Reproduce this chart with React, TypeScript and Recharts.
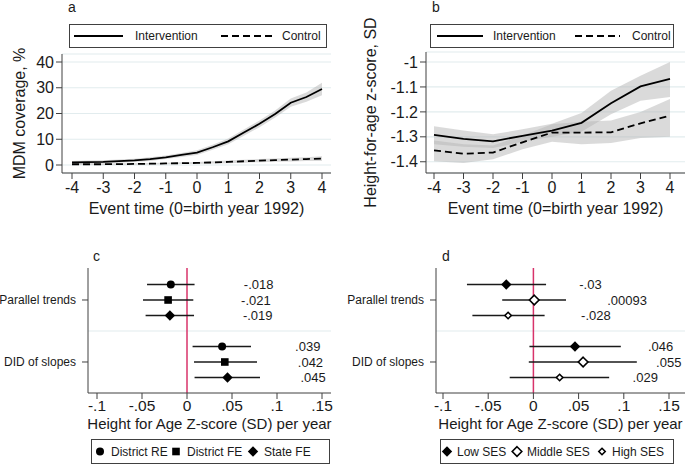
import React from "react";
import {
  Area,
  CartesianGrid,
  ComposedChart,
  ErrorBar,
  Line,
  ReferenceLine,
  Scatter,
  ScatterChart,
  XAxis,
  YAxis,
} from "recharts";

const FONT = "'Liberation Sans', Arial, Helvetica, sans-serif";
const INK = "#1a1a1a";
const AXIS = "#404040";
const GRID = "#e2ecee";
const BAND = "#b5b5b5";
const RED = "#d8336a";

// panel a: MDM coverage, half-year steps
const eventTimeA = [-4, -3.5, -3, -2.5, -2, -1.5, -1, -0.5, 0, 0.5, 1, 1.5, 2, 2.5, 3, 3.5, 4];
const mdmIntervention = [1.0, 1.1, 1.2, 1.5, 1.8, 2.3, 3.0, 3.9, 4.8, 6.9, 9.2, 12.6, 16.0, 19.8, 24.2, 26.4, 29.5];
const mdmInterventionLo = [0.4, 0.5, 0.6, 0.9, 1.2, 1.6, 2.3, 3.1, 3.9, 5.9, 8.1, 11.4, 14.7, 18.4, 22.6, 24.6, 27.1];
const mdmInterventionHi = [1.6, 1.7, 1.8, 2.1, 2.4, 3.0, 3.7, 4.7, 5.7, 7.9, 10.3, 13.8, 17.3, 21.2, 25.8, 28.2, 31.9];
const mdmControl = [0.3, 0.3, 0.3, 0.35, 0.4, 0.5, 0.6, 0.7, 0.8, 1.0, 1.2, 1.45, 1.7, 1.9, 2.1, 2.3, 2.5];
const mdmControlLo = [0.0, 0.0, 0.0, 0.05, 0.1, 0.2, 0.3, 0.35, 0.4, 0.55, 0.7, 0.9, 1.1, 1.25, 1.4, 1.55, 1.6];
const mdmControlHi = [0.6, 0.6, 0.6, 0.65, 0.7, 0.8, 0.9, 1.05, 1.2, 1.45, 1.7, 2.0, 2.3, 2.55, 2.8, 3.05, 3.4];

// panel b: height-for-age z-score
const eventTimeB = [-4, -3, -2, -1, 0, 1, 2, 3, 4];
const hazIntervention = [-1.292, -1.308, -1.318, -1.296, -1.275, -1.244, -1.165, -1.098, -1.068];
const hazInterventionLo = [-1.33, -1.34, -1.345, -1.32, -1.3, -1.28, -1.21, -1.155, -1.14];
const hazInterventionHi = [-1.258, -1.275, -1.29, -1.27, -1.248, -1.205, -1.115, -1.055, -1.0];
const hazControl = [-1.354, -1.368, -1.363, -1.322, -1.283, -1.283, -1.282, -1.246, -1.215];
const hazControlLo = [-1.398, -1.405, -1.39, -1.35, -1.32, -1.33, -1.325, -1.305, -1.3];
const hazControlHi = [-1.315, -1.33, -1.335, -1.295, -1.25, -1.24, -1.235, -1.2, -1.148];

const eventTicks = [-4, -3, -2, -1, 0, 1, 2, 3, 4];
const mdmTicks = [0, 10, 20, 30, 40];
const hazTicks = [-1.4, -1.3, -1.2, -1.1, -1];

// panels c, d: coefficient plots
const coefRows = ["Parallel trends", "DID of slopes"];
const coefTicks = [-0.1, -0.05, 0, 0.05, 0.1, 0.15];

const modelsC = ["District RE", "District FE", "State FE"];
const parallelEstC = [-0.018, -0.021, -0.019];
const parallelLoC = [-0.0444, -0.0489, -0.046];
const parallelHiC = [0.0084, 0.007, 0.0078];
const didEstC = [0.039, 0.042, 0.045];
const didLoC = [0.0062, 0.0078, 0.0084];
const didHiC = [0.0711, 0.0778, 0.0811];

const groupsD = ["Low SES", "Middle SES", "High SES"];
const parallelEstD = [-0.03, 0.00093, -0.028];
const parallelLoD = [-0.0735, -0.0345, -0.0675];
const parallelHiD = [0.014, 0.0361, 0.0124];
const didEstD = [0.046, 0.055, 0.029];
const didLoD = [-0.0044, -0.0051, -0.0262];
const didHiD = [0.0967, 0.1144, 0.0838];

const trendA = eventTimeA.map((t, i) => ({
  t,
  int: mdmIntervention[i],
  intBand: [mdmInterventionLo[i], mdmInterventionHi[i]],
  ctl: mdmControl[i],
  ctlBand: [mdmControlLo[i], mdmControlHi[i]],
}));

const trendB = eventTimeB.map((t, i) => ({
  t,
  int: hazIntervention[i],
  intBand: [hazInterventionLo[i], hazInterventionHi[i]],
  ctl: hazControl[i],
  ctlBand: [hazControlLo[i], hazControlHi[i]],
}));

const fmtCoef = (v: number) => (v === 0 ? "0" : String(v).replace("0.", "."));

function coefSeries(est: number[][], lo: number[][], hi: number[][], i: number) {
  return coefRows.map((_, r) => ({
    x: est[r][i],
    y: r + 1 + (i - 1) * 0.25,
    err: [est[r][i] - lo[r][i], hi[r][i] - est[r][i]],
    label: fmtCoef(est[r][i]),
  }));
}

type MarkerKind = "circle" | "square" | "diamond" | "hollowDiamond" | "smallDiamond";

function Marker({ kind, cx, cy }: { kind: MarkerKind; cx: number; cy: number }) {
  if (kind === "circle") return <circle cx={cx} cy={cy} r={4} fill="#000" />;
  if (kind === "square") return <rect x={cx - 3.8} y={cy - 3.8} width={7.6} height={7.6} fill="#000" />;
  const s = kind === "diamond" ? 5.2 : kind === "hollowDiamond" ? 4.8 : 3.2;
  const pts = `${cx},${cy - s} ${cx + s},${cy} ${cx},${cy + s} ${cx - s},${cy}`;
  if (kind === "diamond") return <polygon points={pts} fill="#000" />;
  return <polygon points={pts} fill="#fff" stroke="#000" strokeWidth={1.6} />;
}

const markShape = (kind: MarkerKind) => (props: any) => {
  const { cx, cy, payload } = props;
  return (
    <g>
      <Marker kind={kind} cx={cx} cy={cy} />
      <text x={cx + 73} y={cy} dy="0.36em" fontSize={13} fill={INK}>
        {payload.label}
      </text>
    </g>
  );
};

const RowTick = (p: any) => (
  <text x={p.x} y={p.y} dy="0.36em" textAnchor="end" fontSize={12} fill={INK}>
    {coefRows[p.payload.value - 1] ?? ""}
  </text>
);

function TrendPanel(props: {
  left: number;
  width: number;
  data: any[];
  marginTop: number;
  yAxisWidth: number;
  yDomain: number[];
  yTicks: number[];
  yPad: number;
  yTitle: string;
  yTitleOffset: number;
  xPad: { left: number; right: number };
  marginRight: number;
}) {
  return (
    <div style={{ position: "absolute", left: props.left, top: 0 }}>
      <ComposedChart
        width={props.width}
        height={235}
        data={props.data}
        margin={{ top: props.marginTop, right: props.marginRight, bottom: 0, left: 0 }}
      >
        <CartesianGrid horizontal vertical={false} stroke={GRID} strokeWidth={1.2} />
        <XAxis
          type="number"
          dataKey="t"
          domain={[-4, 4]}
          ticks={eventTicks}
          padding={props.xPad}
          height={62}
          stroke={AXIS}
          tickSize={6}
          tickMargin={3}
          tick={{ fill: INK, fontSize: 16 }}
          label={{ value: "Event time (0=birth year 1992)", position: "insideTop", offset: 30, fill: INK, fontSize: 16 }}
        />
        <YAxis
          type="number"
          domain={props.yDomain}
          ticks={props.yTicks}
          padding={{ top: props.yPad, bottom: props.yPad }}
          width={props.yAxisWidth}
          stroke={AXIS}
          tickSize={6}
          tickMargin={2}
          tick={{ fill: INK, fontSize: 16 }}
          tickFormatter={(v: number) => String(v)}
          label={{
            value: props.yTitle,
            angle: -90,
            position: "insideLeft",
            offset: props.yTitleOffset,
            fill: INK,
            fontSize: 16,
            style: { textAnchor: "middle" },
          }}
        />
        <Area type="linear" dataKey="intBand" stroke="none" fill={BAND} fillOpacity={0.5} isAnimationActive={false} />
        <Line type="linear" dataKey="int" stroke="#000" strokeWidth={1.8} dot={false} isAnimationActive={false} />
        <Area type="linear" dataKey="ctlBand" stroke="none" fill={BAND} fillOpacity={0.5} isAnimationActive={false} />
        <Line
          type="linear"
          dataKey="ctl"
          stroke="#000"
          strokeWidth={1.8}
          strokeDasharray="7 4"
          dot={false}
          isAnimationActive={false}
        />
      </ComposedChart>
    </div>
  );
}

function CoefPanel(props: {
  left: number;
  width: number;
  yAxisWidth: number;
  marginRight: number;
  xPad: { left: number; right: number };
  series: { name: string; kind: MarkerKind; data: any[] }[];
}) {
  return (
    <div style={{ position: "absolute", left: props.left, top: 240 }}>
      <ScatterChart
        width={props.width}
        height={225}
        margin={{ top: 28, right: props.marginRight, bottom: 0, left: 0 }}
      >
        <XAxis
          type="number"
          dataKey="x"
          domain={[-0.1, 0.15]}
          ticks={coefTicks}
          padding={props.xPad}
          height={72}
          stroke={AXIS}
          tickSize={6}
          tickMargin={1}
          tick={{ fill: INK, fontSize: 15.5 }}
          tickFormatter={fmtCoef}
          label={{
            value: "Height for Age Z-score (SD) per year",
            position: "insideTop",
            offset: 25,
            fill: INK,
            fontSize: 15,
          }}
        />
        <YAxis
          type="number"
          dataKey="y"
          domain={[0.484, 2.5]}
          reversed
          ticks={[1, 2]}
          width={props.yAxisWidth}
          stroke={AXIS}
          tickSize={6}
          tickMargin={6}
          tick={RowTick}
        />
        <ReferenceLine y={1.5} stroke={GRID} strokeWidth={1.2} />
        <ReferenceLine x={0} stroke={RED} strokeWidth={1.5} />
        {props.series.map((s) => (
          <Scatter key={s.name} name={s.name} data={s.data} shape={markShape(s.kind)} isAnimationActive={false}>
            <ErrorBar dataKey="err" direction="x" width={0} stroke={INK} strokeWidth={1.6} />
          </Scatter>
        ))}
      </ScatterChart>
    </div>
  );
}

const kindsC: MarkerKind[] = ["circle", "square", "diamond"];
const kindsD: MarkerKind[] = ["diamond", "hollowDiamond", "smallDiamond"];

const seriesC = modelsC.map((name, i) => ({
  name,
  kind: kindsC[i],
  data: coefSeries([parallelEstC, didEstC], [parallelLoC, didLoC], [parallelHiC, didHiC], i),
}));

const seriesD = groupsD.map((name, i) => ({
  name,
  kind: kindsD[i],
  data: coefSeries([parallelEstD, didEstD], [parallelLoD, didLoD], [parallelHiD, didHiD], i),
}));

function Legends() {
  return (
    <svg
      width={685}
      height={465}
      style={{ position: "absolute", left: 0, top: 0, pointerEvents: "none" }}
      fontFamily={FONT}
    >
      <g fontSize={14} fill={INK}>
        <text x={68} y={12}>a</text>
        <text x={432} y={12}>b</text>
        <text x={93} y={261}>c</text>
        <text x={442} y={261}>d</text>
      </g>

      <g fontSize={12} fill={INK}>
        <rect x={69.5} y={24.5} width={257} height={23} fill="#fff" stroke={AXIS} />
        <line x1={74} x2={123} y1={36} y2={36} stroke="#000" strokeWidth={1.8} />
        <text x={135} y={40}>Intervention</text>
        <line x1={221} x2={272} y1={36} y2={36} stroke="#000" strokeWidth={1.8} strokeDasharray="7 4" />
        <text x={282} y={40}>Control</text>

        <rect x={430.5} y={24.5} width={243} height={23} fill="#fff" stroke={AXIS} />
        <line x1={437} x2={483} y1={36} y2={36} stroke="#000" strokeWidth={1.8} />
        <text x={493} y={40}>Intervention</text>
        <line x1={575} x2={620} y1={36} y2={36} stroke="#000" strokeWidth={1.8} strokeDasharray="7 4" />
        <text x={632} y={40}>Control</text>

        <rect x={91.5} y={439.5} width={238} height={24} fill="#fff" stroke={AXIS} />
        {modelsC.map((name, i) => {
          const mx = [100, 176, 253][i];
          return (
            <g key={name}>
              <Marker kind={kindsC[i]} cx={mx} cy={451.5} />
              <text x={mx + 11} y={456}>{name}</text>
            </g>
          );
        })}

        <rect x={440.5} y={439.5} width={233} height={24} fill="#fff" stroke={AXIS} />
        {groupsD.map((name, i) => {
          const mx = [447, 517, 602][i];
          return (
            <g key={name}>
              <Marker kind={kindsD[i]} cx={mx} cy={451.5} />
              <text x={mx + 10} y={456}>{name}</text>
            </g>
          );
        })}
      </g>
    </svg>
  );
}

export default function App() {
  return (
    <div
      style={{
        position: "absolute",
        left: 0,
        top: 0,
        width: 685,
        height: 465,
        background: "#fff",
        fontFamily: FONT,
        overflow: "hidden",
      }}
    >
      <TrendPanel
        left={0}
        width={340}
        data={trendA}
        marginTop={54}
        marginRight={9}
        yAxisWidth={62}
        yDomain={[0, 40]}
        yTicks={mdmTicks}
        yPad={8}
        yTitle="MDM coverage, %"
        yTitleOffset={19}
        xPad={{ left: 10, right: 9 }}
      />
      <TrendPanel
        left={340}
        width={345}
        data={trendB}
        marginTop={52}
        marginRight={0}
        yAxisWidth={86}
        yDomain={[-1.4, -1]}
        yTicks={hazTicks}
        yPad={10}
        yTitle="Height-for-age z-score, SD"
        yTitleOffset={30}
        xPad={{ left: 8, right: 15 }}
      />
      <CoefPanel left={0} width={340} yAxisWidth={88} marginRight={9} xPad={{ left: 9, right: 9 }} series={seriesC} />
      <CoefPanel left={340} width={345} yAxisWidth={96} marginRight={0} xPad={{ left: 7, right: 16 }} series={seriesD} />
      <Legends />
    </div>
  );
}
